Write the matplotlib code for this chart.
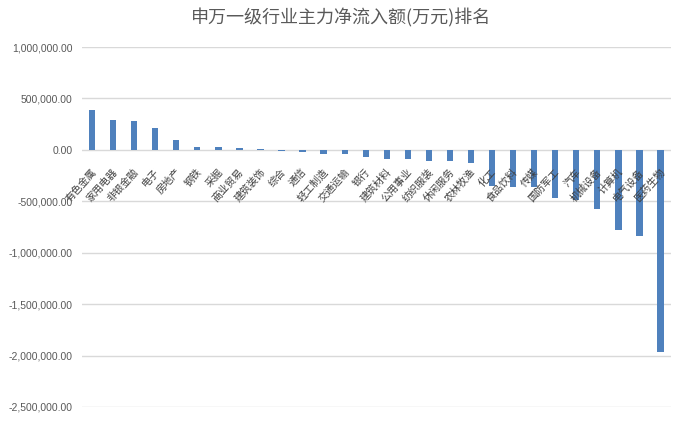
import matplotlib
matplotlib.use("Agg")
import matplotlib.pyplot as plt
import matplotlib.transforms as mtransforms
from matplotlib.ticker import FuncFormatter

# 申万一级行业 主力净流入额 (万元)
industries = ["有色金属", "家用电器", "非银金融", "电子", "房地产", "钢铁", "采掘",
              "商业贸易", "建筑装饰", "综合", "通信", "轻工制造", "交通运输", "银行",
              "建筑材料", "公用事业", "纺织服装", "休闲服务", "农林牧渔", "化工",
              "食品饮料", "传媒", "国防军工", "汽车", "机械设备", "计算机",
              "电气设备", "医药生物"]
net_inflow = [390000, 286000, 276000, 217000, 97000, 32000, 23000,
              22000, 10000, -12000, -22000, -40000, -42000, -65000,
              -90000, -93000, -108000, -112000, -125000, -355000,
              -360000, -365000, -464000, -490000, -578000, -775000,
              -840000, -1966000]
y_ticks = [1000000, 500000, 0, -500000, -1000000, -1500000, -2000000, -2500000]

title = "申万一级行业主力净流入额(万元)排名"

plt.rcParams['font.family'] = ['Noto Sans CJK SC', 'DejaVu Sans']

fig = plt.figure(figsize=(6.83, 4.21), dpi=100)
ax = fig.add_axes([81.5 / 683, 1 - 407 / 421, (671 - 81.5) / 683, (407 - 47) / 421])

x = list(range(len(industries)))
ax.bar(x, net_inflow, width=0.3, color="#4F81BD", zorder=3)

ax.set_xlim(-0.5, len(industries) - 0.5)
ax.set_ylim(min(y_ticks), max(y_ticks))
ax.set_yticks(y_ticks)
ax.yaxis.set_major_formatter(FuncFormatter(lambda v, p: "{:,.2f}".format(v)))
ax.grid(axis="y", color="#d9d9d9", linewidth=1, zorder=0)
ax.tick_params(axis="y", length=0, pad=6.5, labelsize=7.5, labelcolor="#595959")
for lab in ax.get_yticklabels():
    lab.set_fontfamily("Liberation Sans")
ax.set_xticks([])
for s in ax.spines.values():
    s.set_visible(False)

# category labels sit just below the zero line, rotated
lab_trans = mtransforms.offset_copy(ax.transData, fig=fig, x=2.5, y=-20, units="dots")
for i, name in enumerate(industries):
    ax.text(i, 0, name, transform=lab_trans, rotation=48, rotation_mode="anchor",
            ha="right", va="center", fontsize=7.3, color="#404040", zorder=4)

fig.text(0.5, 1 - 18 / 421, title, ha="center", va="center",
         fontsize=13, color="#595959")

fig.savefig("out.png", dpi=100)
